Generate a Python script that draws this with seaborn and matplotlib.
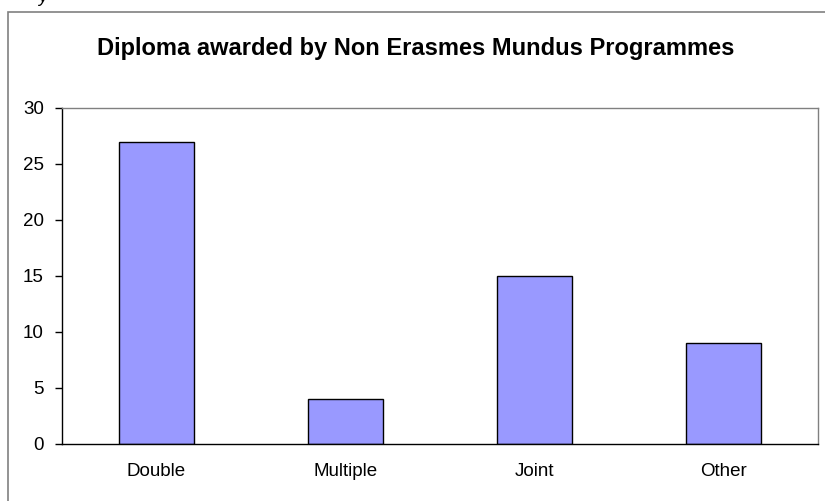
import matplotlib
matplotlib.use("Agg")
import matplotlib.pyplot as plt
import seaborn as sns
import pandas as pd
from matplotlib.patches import Rectangle

# data
categories = ["Double", "Multiple", "Joint", "Other"]
counts = [27, 4, 15, 9]
yticks = [0, 5, 10, 15, 20, 25, 30]

df = pd.DataFrame({"Diploma": categories, "Count": counts})

sns.set_style("white")
plt.rcParams['font.family'] = ['Liberation Sans', 'DejaVu Sans']
plt.rcParams['text.color'] = 'black'
plt.rcParams['xtick.color'] = 'black'
plt.rcParams['ytick.color'] = 'black'

fig = plt.figure(figsize=(8.25, 5.01), dpi=100)
ax = fig.add_axes([62/825, 57/501, 756/825, 336/501])

sns.barplot(data=df, x="Diploma", y="Count", color="#9999FF",
            edgecolor="black", linewidth=1, width=0.4, saturation=1, ax=ax)

ax.set_xlim(-0.5, 3.5)
ax.set_ylim(0, 30)
ax.set_yticks(yticks)
ax.set_xlabel("")
ax.set_ylabel("")

# category boundaries get the tick marks, labels sit in the middle
ax.set_xticks([-0.5, 0.5, 1.5, 2.5, 3.5], minor=True)
ax.tick_params(axis="x", which="major", length=0, pad=14, labelsize=13.5)
ax.tick_params(axis="x", which="minor", length=5, width=1, color="black", direction="out")
ax.tick_params(axis="y", length=5, width=1, color="black", direction="out",
               labelsize=13.5, pad=8, left=True)

for s in ["top", "right"]:
    ax.spines[s].set_color("#808080")
for s in ["left", "bottom"]:
    ax.spines[s].set_color("black")
for s in ax.spines.values():
    s.set_linewidth(1)
    s.set_visible(True)

# outer chart frame (runs past the right and bottom edges)
fig.patches.append(Rectangle((8/825, -0.1), 1.1, 1.1 - 12/501, transform=fig.transFigure,
                             fill=False, edgecolor="#808080", linewidth=1.2))

fig.text(416/825, 1 - 48/501, "Diploma awarded by Non Erasmes Mundus Programmes",
         ha="center", va="center", fontsize=17, fontweight="bold")

# cut-off caption above the chart, as in the source image
fig.text(38/825, 1 - 2/501, "y", ha="left", va="baseline", fontsize=13, style="italic")

fig.savefig("out.png", dpi=100)
